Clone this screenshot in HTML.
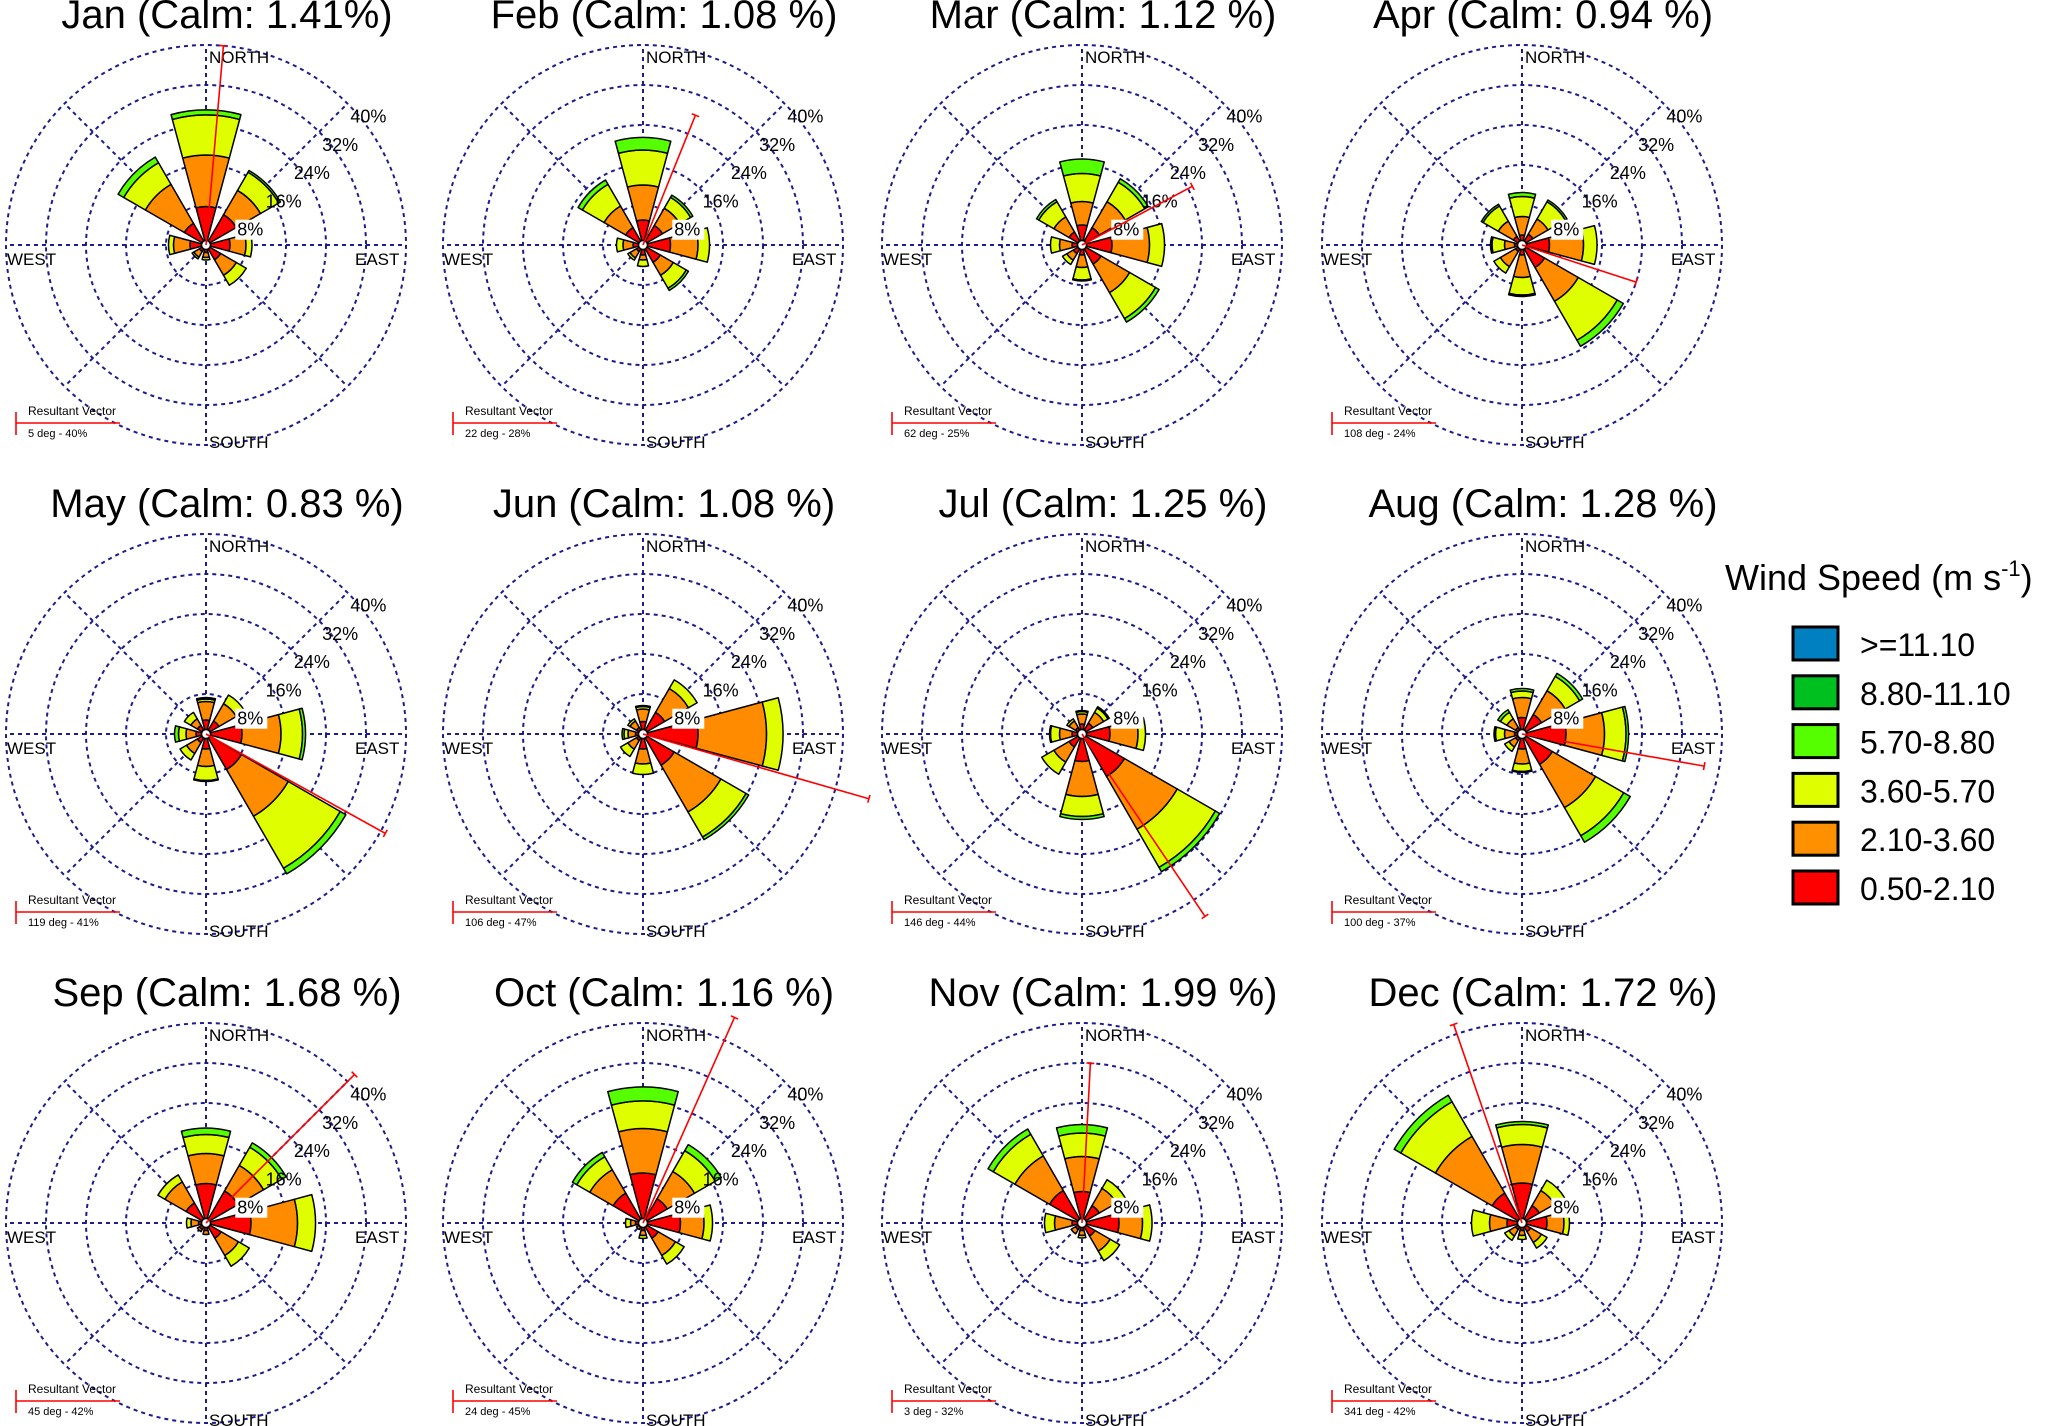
<!DOCTYPE html>
<html><head><meta charset="utf-8"><style>
html,body{margin:0;padding:0;background:#fff;}
svg{display:block;font-family:"Liberation Sans",Arial,sans-serif;}
</style></head><body>
<svg id="chart" width="2067" height="1426" viewBox="0 0 2067 1426" xmlns="http://www.w3.org/2000/svg">
<g id="roses"></g>
<g id="legend">
<text x="1725" y="590" font-size="36">Wind Speed (m s<tspan font-size="22" dy="-14">-1</tspan><tspan dy="14">)</tspan></text>
</g>
</svg>
<script>
// Months, calm %, resultant vectors
const months = ["Jan","Feb","Mar","Apr","May","Jun","Jul","Aug","Sep","Oct","Nov","Dec"];
const calmLabels = ["1.41%","1.08 %","1.12 %","0.94 %","0.83 %","1.08 %","1.25 %","1.28 %","1.68 %","1.16 %","1.99 %","1.72 %"];
const vectorDeg = [5,22,62,108,119,106,146,100,45,24,3,341];
const vectorPct = [40,28,25,24,41,47,44,37,42,45,32,42];
const directions = [0,45,90,135,180,225,270,315];
const ringTicks = [8,16,24,32,40];
const speedBins = [">=11.10","8.80-11.10","5.70-8.80","3.60-5.70","2.10-3.60","0.50-2.10"];
// cumulative % per direction [N,NE,E,SE,S,SW,W,NW]: red, orange, yellow, green
const jan = [[7.7,18,26,27],[7,12.6,16.8,17.2],[4.8,8,9.2],[3.4,7,9.3],[1.5,2.5,3],[1.5,2.8,3.2],[3.2,6.5,7.5],[5,14,19,20.3]];
const feb = [[5,12,19,21.5],[4.5,8.5,11,11.5],[5.5,11,13.3],[4,7,10,10.5],[2,3,4.3],[1.5,3,3.5],[2,4,5.3],[4,9,14,15]];
const mar = [[4,8.7,14.3,17.2],[4,10,14.5,15.3],[6,13.5,16.5],[4.4,11,17,17.8],[2,4.5,7,7.2],[2,3.5,4.5],[2,4.5,6.3],[3,6.5,10,10.5]];
const apr = [[2,5.7,9.7,10.5],[2.5,6,10,10.4],[5.5,12.3,15],[5.2,13,22,23.4],[2,6.5,10,10.3],[1.5,5,6.5],[1.5,3.5,6,6.3],[2,5.5,9,9.4]];
const may = [[2.8,6.5,7,7.3],[3,7,9],[7.2,15,19.3,19.9],[8.2,19,31,32.3],[3,6.5,9.3,9.5],[2,4.5,6],[2,4,5.5,6.3],[2,3.5,5]];
const jun = [[2.5,5,5.5,5.7],[5,10.5,12.5],[11,24.7,28],[7.2,18,23.8,24.4],[3,6,8.1],[1.5,3.5,5.2],[1.5,3,3.8,4.2],[1.5,3,3.5]];
const jul = [[2,4,4.5,4.7],[2.5,5,6,6.3],[5.6,11.2,12.7],[9.8,22,30.8,31.8],[5.5,12.5,16.5,17.1],[3,6.5,9.3],[2,4.5,6.3,6.5],[1.5,3,3.5]];
const aug = [[3.3,7.3,8.6,9.1],[4.5,10,13.3,14],[8.8,16.5,20.8,21.3],[7,17,23.5,25],[3,6,7.5,7.7],[1.5,3,4],[1.5,3.5,5.3,5.6],[1.5,3.5,5,5.6]];
const sep = [[7.9,13.9,17.7,19],[7.4,13.3,17.5,18.5],[9,18.3,21.9],[3.5,7.5,10],[1.5,2.3],[1.5,2],[1.5,3,3.9],[4.6,9.5,11.1]];
const oct = [[10,18.9,24.4,27.2],[5.6,11.9,16.7,18.1],[7.5,12.2,13.9],[3.5,7.5,9.5],[1.5,2.5,3.1],[1,1.5],[1.5,2.5,3.5],[6.9,12.3,15.3,16.3]];
const nov = [[6.3,13.3,18,19.7],[4,8,10],[7.4,12.1,14],[3,6.5,8.7],[1.5,2.5,3],[1.5,2.5],[2,5.5,7.5],[7.5,15.5,20.5,21.7]];
const dec = [[8,15.7,19.7,20.3],[4,7.5,9.9],[5,8.4,9.5],[2,4.5,5.8],[1.5,2.5,3.3],[1.5,3,4],[3,6.5,10.1],[6.9,20,28,29.5]];
const monthData = [jan,feb,mar,apr,may,jun,jul,aug,sep,oct,nov,dec];

const binColors = ["#FF0000","#FF8C00","#DFFF00","#55FF00","#00C020","#0080C0"];
const legendColors = ["#0080C0","#00C020","#55FF00","#DFFF00","#FF9000","#FF0000"];
const NS = "http://www.w3.org/2000/svg";
const colX = [206,643,1082,1522], rowY = [245,734,1223];
const PX = 5; // px per percent
function rScale(p){ return p*PX; }
function pt(cx,cy,r,deg){ const a=(deg)*Math.PI/180; return [cx+r*Math.sin(a), cy-r*Math.cos(a)]; }
function mk(tag, attrs, parent){ const e=document.createElementNS(NS,tag); for(const k in attrs) e.setAttribute(k,attrs[k]); parent.appendChild(e); return e; }
function sector(cx,cy,r0,r1,deg,half){
  const a=pt(cx,cy,r1,deg-half), b=pt(cx,cy,r1,deg+half), c=pt(cx,cy,r0,deg+half), d=pt(cx,cy,r0,deg-half);
  return `M${a[0]},${a[1]} A${r1},${r1} 0 0 1 ${b[0]},${b[1]} L${c[0]},${c[1]} A${r0},${r0} 0 0 0 ${d[0]},${d[1]} Z`;
}
const root = document.getElementById('roses');
months.forEach((m,i)=>{
  const cx = colX[i%4], cy = rowY[Math.floor(i/4)];
  const g = mk('g',{},root);
  
  
  const t = mk('text',{x:cx+21,y:cy-217,'font-size':40,'text-anchor':'middle',fill:'#000'},g);
  
  
  t.textContent = m+" (Calm: "+calmLabels[i]+")";
  // grid
  ringTicks.forEach(p=>{
    const c = mk('circle',{cx:cx,cy:cy,r:rScale(p),fill:'none',stroke:'#1c1c8c','stroke-width':2,'stroke-dasharray':'4,4'},g);
    
    
  });
  directions.forEach(d=>{
    const e = pt(cx,cy,200,d);
    const l = mk('line',{x1:cx,y1:cy,x2:e[0],y2:e[1],stroke:'#1c1c8c','stroke-width':2,'stroke-dasharray':'4,4'},g);
    
    
  });
  const lbls = [["NORTH",cx+3,cy-182],["SOUTH",cx+3,cy+203],["WEST",cx-199,cy+20],["EAST",cx+149,cy+20]];
  lbls.forEach(L=>{
    const tx = mk('text',{x:L[1],y:L[2],'font-size':17,fill:'#000'},g);
    
    
    tx.textContent = L[0];
  });
  // wedges
  monthData[i].forEach((stack,di)=>{
    let prev = 0;
    stack.forEach((v,bi)=>{
      const p = mk('path',{d:sector(cx,cy,rScale(prev),rScale(v),directions[di],15),fill:binColors[bi],stroke:'#000','stroke-width':1.5,'stroke-linejoin':'round'},g);
      
      
      prev = v;
    });
  });
  const cc = mk('circle',{cx:cx,cy:cy,r:4.5,fill:'#fff',stroke:'#000','stroke-width':1.5},g);
  
  
  // percent labels
  ringTicks.forEach(p=>{
    const r = rScale(p)*0.7071;
    if(p===8){
      const bg = mk('rect',{x:cx+r+1,y:cy-r+3,width:32,height:20,fill:'#fff'},g);
      
      
    }
    const tx = mk('text',{x:cx+r+3,y:cy-r+19,'font-size':18,fill:'#000'},g);
    
    
    tx.textContent = p+"%";
  });
  // resultant vector
  const ve = pt(cx,cy,rScale(vectorPct[i]),vectorDeg[i]);
  const vl = mk('line',{x1:cx,y1:cy,x2:ve[0],y2:ve[1],stroke:'#FF0000','stroke-width':1.6},g);
  
  
  const ta = pt(ve[0],ve[1],4,vectorDeg[i]-90), tb = pt(ve[0],ve[1],4,vectorDeg[i]+90);
  const vt = mk('line',{x1:ta[0],y1:ta[1],x2:tb[0],y2:tb[1],stroke:'#FF0000','stroke-width':1.6},g);
  
  
  // vector legend
  const lx = cx-190;
  const h1 = mk('line',{x1:lx,y1:cy+178,x2:lx+104,y2:cy+178,stroke:'#FF0000','stroke-width':1.6},g);
  
  
  const h2 = mk('line',{x1:lx,y1:cy+167,x2:lx,y2:cy+190,stroke:'#FF0000','stroke-width':1.6},g);
  
  
  const k1 = mk('text',{x:lx+12,y:cy+170,'font-size':12,fill:'#000'},g);
  
  
  k1.textContent = "Resultant Vector";
  const k2 = mk('text',{x:lx+12,y:cy+192,'font-size':11,fill:'#000'},g);
  
  
  k2.textContent = vectorDeg[i]+" deg - "+vectorPct[i]+"%";
});
// legend entries
const leg = document.getElementById('legend');
speedBins.forEach((s,i)=>{
  const y = 627 + i*48.8;
  const r = mk('rect',{x:1793,y:y,width:45,height:33,fill:legendColors[i],stroke:'#000','stroke-width':3},leg);
  
  
  const t = mk('text',{x:1860,y:y+29,'font-size':32,fill:'#000'},leg);
  
  
  t.textContent = s;
});
</script>
</body></html>
